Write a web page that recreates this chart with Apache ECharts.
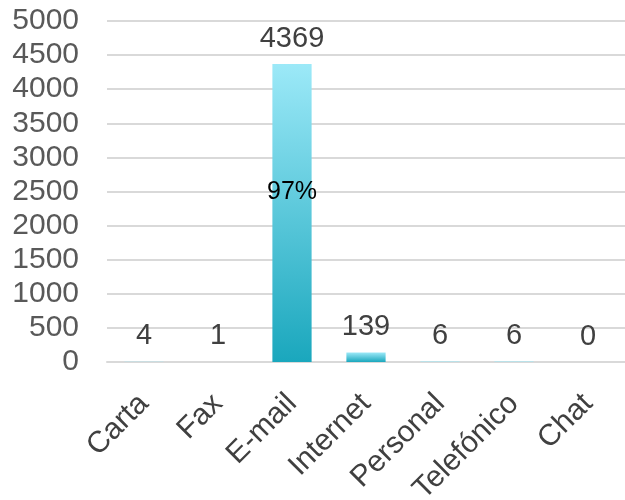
<!DOCTYPE html>
<html><head><meta charset="utf-8">
<script src="https://cdn.jsdelivr.net/npm/echarts@6/dist/echarts.min.js"></script>
<style>html,body{margin:0;padding:0;background:#fff}#c{width:625px;height:500px}</style>
</head><body><div id="c"></div>
<script>
const categories = ['Carta','Fax','E-mail','Internet','Personal','Telefónico','Chat'];
const values = [4, 1, 4369, 139, 6, 6, 0];
const yTicks = [0, 500, 1000, 1500, 2000, 2500, 3000, 3500, 4000, 4500, 5000];
const highlightCategory = 'E-mail';

const total = values.reduce((a, b) => a + b, 0);
const pctData = values.map((v, i) => categories[i] === highlightCategory ? v : '-');
const font = '"Liberation Sans", Arial, sans-serif';

const chart = echarts.init(document.getElementById('c'), null, {renderer: 'canvas'});
chart.setOption({
  animation: false,
  grid: {left: 107, right: 0, top: 21, bottom: 138, containLabel: false, outerBoundsMode: 'none'},
  xAxis: {
    type: 'category', data: categories,
    axisLine: {lineStyle: {color: '#d9d9d9', width: 2}},
    axisTick: {show: false},
    axisLabel: {rotate: 45, fontSize: 30, color: '#404040', fontFamily: font, margin: 37, interval: 0}
  },
  yAxis: {
    type: 'value', min: yTicks[0], max: yTicks[yTicks.length - 1], interval: 500,
    axisLine: {show: false}, axisTick: {show: false},
    splitLine: {lineStyle: {color: '#d9d9d9', width: 2}},
    axisLabel: {fontSize: 30, color: '#595959', fontFamily: font, margin: 28, formatter: v => String(v)}
  },
  series: [{
    type: 'bar', data: values, barWidth: '53%',
    itemStyle: {
      color: new echarts.graphic.LinearGradient(0, 0, 0, 1, [
        {offset: 0, color: '#9ce9f8'}, {offset: 1, color: '#1aa7bd'}
      ])
    },
    label: {show: true, position: 'top', distance: 11, fontSize: 29, color: '#404040', fontFamily: font}
  }, {
    type: 'bar', data: pctData, barWidth: '53%', barGap: '-100%',
    itemStyle: {color: 'rgba(0,0,0,0)'},
    label: {
      show: true, position: ['50%', '43%'], align: 'center', verticalAlign: 'middle',
      fontSize: 25, color: '#000', fontFamily: font,
      formatter: p => Math.round(p.value / total * 100) + '%'
    }
  }]
});
</script></body></html>
